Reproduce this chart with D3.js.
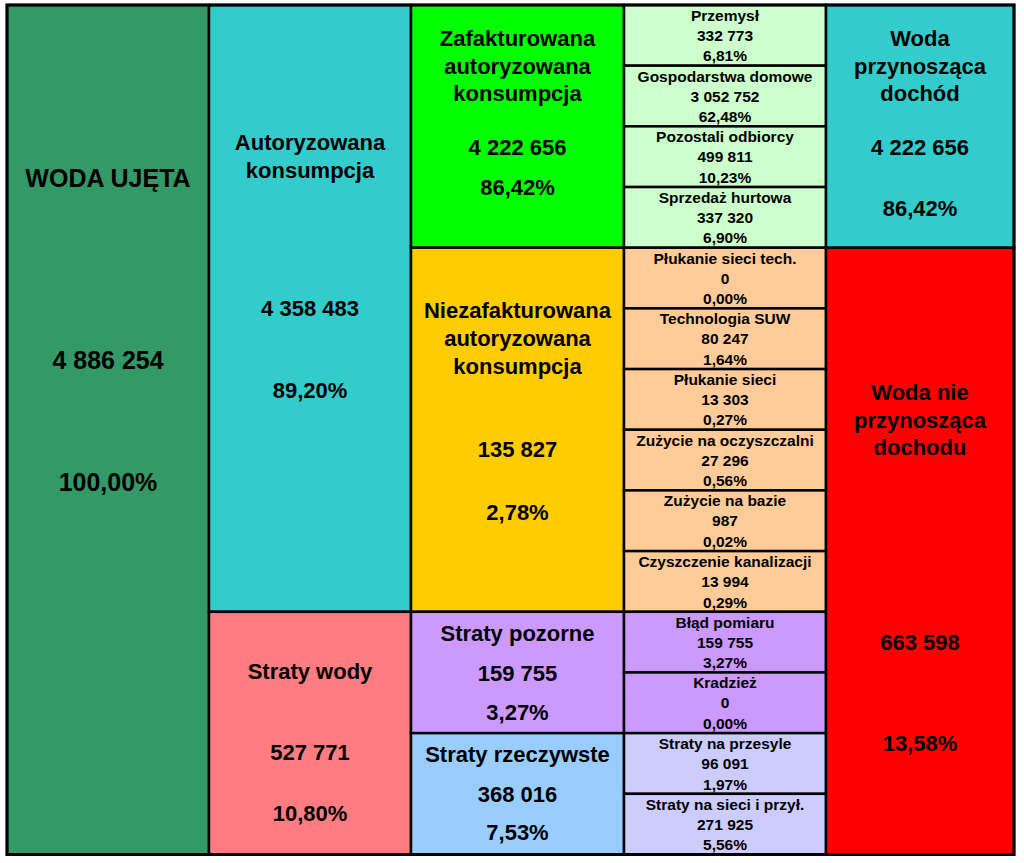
<!DOCTYPE html>
<html><head><meta charset="utf-8">
<script src="https://cdn.jsdelivr.net/npm/d3@7"></script>
<style>html,body{margin:0;padding:0;background:#fff;}svg{display:block;}</style>
</head><body>
<svg id="chart" width="1024" height="863"></svg>
<script>
// ---------- DATA ----------
const totalLabel = ["WODA UJĘTA"];
const totalValue = 4886254;
const totalPct = 100.00;

const level2Names = [["Autoryzowana", "konsumpcja"], ["Straty wody"]];
const level2Values = [4358483, 527771];
const level2Pcts = [89.20, 10.80];
const level2Rows = [10, 4];

const level3Names = [["Zafakturowana", "autoryzowana", "konsumpcja"], ["Niezafakturowana", "autoryzowana", "konsumpcja"], ["Straty pozorne"], ["Straty rzeczywste"]];
const level3Values = [4222656, 135827, 159755, 368016];
const level3Pcts = [86.42, 2.78, 3.27, 7.53];
const level3Rows = [4, 6, 2, 2];

const detailNames = ["Przemysł", "Gospodarstwa domowe", "Pozostali odbiorcy", "Sprzedaż hurtowa",
  "Płukanie sieci tech.", "Technologia SUW", "Płukanie sieci", "Zużycie na oczyszczalni", "Zużycie na bazie", "Czyszczenie kanalizacji",
  "Błąd pomiaru", "Kradzież", "Straty na przesyle", "Straty na sieci i przył."];
const detailValues = [332773, 3052752, 499811, 337320, 0, 80247, 13303, 27296, 987, 13994, 159755, 0, 96091, 271925];
const detailPcts = [6.81, 62.48, 10.23, 6.90, 0.00, 1.64, 0.27, 0.56, 0.02, 0.29, 3.27, 0.00, 1.97, 5.56];

const revenueNames = [["Woda", "przynosząca", "dochód"], ["Woda nie", "przynosząca", "dochodu"]];
const revenueValues = [4222656, 663598];
const revenuePcts = [86.42, 13.58];
const revenueRows = [4, 10];

// ---------- STYLE / LAYOUT ----------
const colorTotal = "#339966";
const colorsL2 = ["#33CCCC", "#FF7C80"];
const colorsL3 = ["#00FF00", "#FFCC00", "#CC99FF", "#99CCFF"];
const colorsDetail = ["#CCFFCC", "#FFCC99", "#CC99FF", "#CCCCFF"];
const colorsRev = ["#33CCCC", "#FF0000"];

const locale = d3.formatLocale({decimal: ",", thousands: "\u00a0", grouping: [3], currency: ["", ""]});
const fmtV = locale.format(",d");
const fmtP = v => locale.format(".2f")(v) + "%";

const svg = d3.select("#chart");
const nRows = 14;
const y = d3.scaleLinear().domain([0, nRows]).range([5, 854.5]);
const x = d3.scaleLinear().domain([0, 1, 2, 3, 4, 5]).range([7, 209, 411, 624, 826, 1014]);

const fontFam = "'Liberation Sans', Arial, Helvetica, sans-serif";

function cell(c0, r0, r1, fill) {
  svg.append("rect")
    .attr("x", x(c0)).attr("y", y(r0))
    .attr("width", x(c0 + 1) - x(c0)).attr("height", y(r1) - y(r0))
    .attr("fill", fill).attr("stroke", "#000").attr("stroke-width", 2.5);
}
function lines(c0, r0, items, size) {
  const cx = (x(c0) + x(c0 + 1)) / 2;
  items.forEach(([txt, off]) => {
    svg.append("text")
      .attr("x", cx).attr("y", y(r0) + off).attr("dy", "0.35em")
      .attr("text-anchor", "middle")
      .attr("font-family", fontFam).attr("font-weight", "bold")
      .attr("font-size", size).attr("fill", "#000")
      .text(txt);
  });
}

// Column 1
cell(0, 0, nRows, colorTotal);
lines(0, 0, [[totalLabel[0], 173], [fmtV(totalValue), 355], [fmtP(totalPct), 477]], 25);

// Column 2
const l2Off = [[137, 165, 303, 385], [60, 141, 202]];
let r = 0;
level2Values.forEach((v, i) => {
  cell(1, r, r + level2Rows[i], colorsL2[i]);
  const names = level2Names[i];
  const offs = l2Off[i];
  const items = names.map((n, k) => [n, offs[k]]);
  items.push([fmtV(v), offs[names.length]]);
  items.push([fmtP(level2Pcts[i]), offs[names.length + 1]]);
  lines(1, r, items, 22);
  r += level2Rows[i];
});

// Column 3
const l3Off = [[33, 61, 88, 142, 182], [63, 91, 119, 202, 265], [22, 62, 101], [21, 61, 99]];
r = 0;
level3Values.forEach((v, i) => {
  cell(2, r, r + level3Rows[i], colorsL3[i]);
  const names = level3Names[i];
  const offs = l3Off[i];
  const items = names.map((n, k) => [n, offs[k]]);
  items.push([fmtV(v), offs[names.length]]);
  items.push([fmtP(level3Pcts[i]), offs[names.length + 1]]);
  lines(2, r, items, 22);
  r += level3Rows[i];
});

// Column 4 (details)
let gi = 0, acc = level3Rows[0];
detailNames.forEach((n, i) => {
  while (i >= acc) { gi++; acc += level3Rows[gi]; }
  cell(3, i, i + 1, colorsDetail[gi]);
  lines(3, i, [[n, 10.5], [fmtV(detailValues[i]), 30.5], [fmtP(detailPcts[i]), 51]], 15.5);
});

// Column 5
const revOff = [[33, 61, 88, 142, 203], [145, 173, 200, 395, 496]];
r = 0;
revenueValues.forEach((v, i) => {
  cell(4, r, r + revenueRows[i], colorsRev[i]);
  const names = revenueNames[i];
  const offs = revOff[i];
  const items = names.map((n, k) => [n, offs[k]]);
  items.push([fmtV(v), offs[names.length]]);
  items.push([fmtP(revenuePcts[i]), offs[names.length + 1]]);
  lines(4, r, items, 22);
  r += revenueRows[i];
});

// Outer frame
svg.append("rect").attr("x", x(0)).attr("y", y(0))
  .attr("width", x(5) - x(0)).attr("height", y(nRows) - y(0))
  .attr("fill", "none").attr("stroke", "#000").attr("stroke-width", 3);
</script>
</body></html>
